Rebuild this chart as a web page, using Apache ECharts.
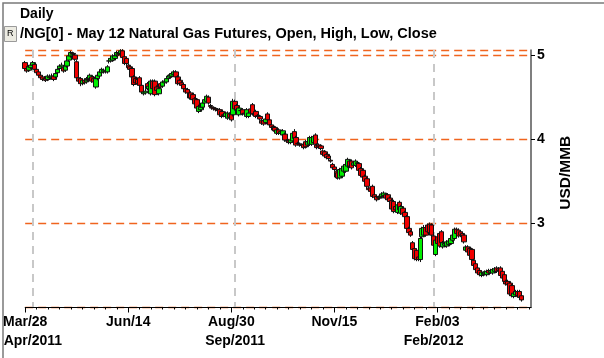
<!DOCTYPE html>
<html><head><meta charset="utf-8">
<script src="https://cdn.jsdelivr.net/npm/echarts@6/dist/echarts.min.js"></script>
<style>html,body{margin:0;padding:0;background:#fff}#c{width:604px;height:358px}</style>
</head><body><div id="c"></div>
<script>
// ---- data ----
const firstDay = '2011-03-28';
const totalBars = 266;
const holidays = ['2011-04-22','2011-05-30','2011-07-04','2011-09-05','2011-11-24','2011-12-26','2012-01-02','2012-01-16','2012-02-20','2012-04-06'];
const majorTickDates = ['2011-03-28','2011-06-14','2011-08-30','2011-11-15','2012-02-03'];
const majorTickLabels = ['Mar/28','Jun/14','Aug/30','Nov/15','Feb/03'];
const monthDates = ['2011-04-01','2011-09-01','2012-02-01'];
const monthLabels = ['Apr/2011','Sep/2011','Feb/2012'];
const titleText = 'Daily';
const subTitleText = '/NG[0] - May 12 Natural Gas Futures, Open, High, Low, Close';
const yName = 'USD/MMB';

const opens = [
4.91,4.84,4.82,4.85,4.88,4.89,4.83,4.80,4.76,4.74,
4.71,4.72,4.71,4.74,4.73,4.75,4.74,4.79,4.84,4.86,
4.85,4.82,4.87,4.94,4.99,5.02,5.00,4.92,4.73,4.72,
4.66,4.70,4.68,4.71,4.72,4.74,4.72,4.62,4.72,4.75,
4.79,4.80,4.81,4.80,4.93,4.93,4.94,4.96,5.00,5.02,
5.02,5.05,4.98,4.96,4.88,4.86,4.84,4.74,4.72,4.71,
4.73,4.64,4.54,4.55,4.66,4.60,4.54,4.69,4.69,4.62,
4.54,4.66,4.63,4.67,4.68,4.72,4.74,4.75,4.77,4.80,
4.74,4.70,4.67,4.65,4.60,4.59,4.54,4.55,4.53,4.48,
4.47,4.33,4.35,4.38,4.43,4.45,4.50,4.40,4.38,4.37,
4.36,4.35,4.35,4.33,4.29,4.27,4.25,4.30,4.31,4.29,
4.45,4.40,4.29,4.34,4.35,4.31,4.27,4.27,4.36,4.41,
4.30,4.33,4.28,4.27,4.22,4.22,4.20,4.30,4.23,4.17,
4.15,4.14,4.07,4.11,4.07,4.05,4.06,3.98,3.98,3.96,
3.98,4.09,4.02,3.95,3.94,3.93,3.94,3.97,3.93,3.94,
3.94,3.96,4.05,3.93,3.93,3.92,3.86,3.85,3.82,3.80,
3.75,3.70,3.67,3.62,3.60,3.54,3.56,3.62,3.62,3.68,
3.74,3.74,3.69,3.69,3.72,3.71,3.65,3.63,3.56,3.53,
3.42,3.42,3.44,3.34,3.32,3.31,3.30,3.32,3.33,3.34,
3.34,3.30,3.27,3.26,3.20,3.13,3.25,3.12,3.18,3.13,
3.08,2.94,2.90,2.77,2.70,2.68,2.60,2.57,2.84,2.86,
2.95,2.98,2.99,2.98,2.85,2.63,2.84,2.88,2.90,2.72,
2.74,2.73,2.75,2.76,2.80,2.82,2.93,2.92,2.90,2.88,
2.86,2.68,2.72,2.70,2.69,2.56,2.52,2.47,2.44,2.38,
2.39,2.40,2.39,2.44,2.42,2.41,2.43,2.47,2.46,2.47,
2.43,2.39,2.31,2.31,2.29,2.26,2.13,2.15,2.19,2.19,
2.14];
const closes = [
4.84,4.81,4.86,4.88,4.91,4.83,4.79,4.76,4.73,4.71,
4.72,4.70,4.75,4.73,4.75,4.71,4.78,4.83,4.87,4.88,
4.81,4.87,4.93,4.99,5.03,5.01,4.95,4.73,4.69,4.66,
4.70,4.67,4.72,4.70,4.76,4.69,4.68,4.72,4.76,4.80,
4.83,4.82,4.80,4.86,4.93,4.96,4.99,4.99,5.03,5.01,
5.05,4.97,4.90,4.90,4.85,4.83,4.74,4.65,4.67,4.66,
4.64,4.56,4.56,4.57,4.60,4.63,4.69,4.60,4.53,4.58,
4.60,4.62,4.68,4.69,4.72,4.75,4.76,4.78,4.80,4.74,
4.66,4.66,4.64,4.60,4.56,4.55,4.49,4.49,4.47,4.42,
4.37,4.39,4.38,4.43,4.47,4.51,4.43,4.39,4.37,4.36,
4.35,4.34,4.29,4.27,4.28,4.31,4.31,4.26,4.23,4.45,
4.36,4.35,4.37,4.34,4.30,4.30,4.35,4.31,4.32,4.30,
4.30,4.27,4.27,4.24,4.19,4.18,4.24,4.23,4.17,4.14,
4.11,4.10,4.11,4.07,4.09,4.10,3.99,3.98,3.96,3.99,
4.07,4.01,3.93,3.95,3.93,3.93,3.90,3.91,3.97,4.02,
4.02,4.03,3.94,3.90,3.91,3.89,3.82,3.80,3.78,3.77,
3.74,3.66,3.64,3.55,3.54,3.64,3.65,3.68,3.70,3.76,
3.68,3.66,3.72,3.74,3.71,3.63,3.57,3.55,3.50,3.44,
3.40,3.38,3.32,3.31,3.28,3.30,3.31,3.35,3.36,3.30,
3.28,3.26,3.17,3.14,3.16,3.22,3.16,3.20,3.11,3.08,
2.94,2.89,2.86,2.69,2.58,2.57,2.57,2.82,2.94,2.95,
2.86,2.90,2.89,2.86,2.74,2.80,2.76,2.73,2.77,2.77,
2.76,2.78,2.79,2.82,2.86,2.93,2.88,2.85,2.86,2.84,
2.78,2.72,2.66,2.62,2.57,2.50,2.45,2.41,2.39,2.42,
2.41,2.42,2.43,2.41,2.44,2.45,2.46,2.43,2.44,2.38,
2.35,2.31,2.28,2.27,2.16,2.14,2.17,2.19,2.14,2.12,
2.09];
const lows = [
4.81,4.79,4.80,4.83,4.86,4.81,4.77,4.74,4.71,4.69,
4.69,4.68,4.69,4.71,4.71,4.69,4.72,4.77,4.82,4.84,
4.79,4.80,4.85,4.92,4.97,4.99,4.93,4.71,4.66,4.63,
4.64,4.65,4.66,4.68,4.70,4.67,4.65,4.60,4.70,4.73,
4.77,4.78,4.78,4.78,4.90,4.91,4.92,4.94,4.98,4.99,
5.00,4.95,4.88,4.88,4.83,4.81,4.72,4.63,4.65,4.64,
4.62,4.54,4.52,4.53,4.58,4.58,4.52,4.58,4.51,4.56,
4.52,4.60,4.61,4.65,4.66,4.70,4.72,4.73,4.75,4.72,
4.64,4.64,4.62,4.58,4.54,4.53,4.47,4.47,4.45,4.40,
4.35,4.31,4.33,4.36,4.41,4.43,4.41,4.37,4.35,4.34,
4.33,4.32,4.27,4.25,4.26,4.25,4.23,4.24,4.21,4.27,
4.34,4.33,4.27,4.32,4.28,4.28,4.25,4.25,4.30,4.28,
4.28,4.25,4.25,4.22,4.17,4.16,4.18,4.21,4.15,4.12,
4.09,4.08,4.05,4.05,4.05,4.03,3.97,3.96,3.94,3.94,
3.96,3.99,3.91,3.93,3.91,3.91,3.88,3.89,3.91,3.92,
3.92,3.94,3.92,3.88,3.89,3.87,3.80,3.78,3.76,3.75,
3.72,3.64,3.62,3.53,3.52,3.52,3.54,3.60,3.60,3.66,
3.66,3.64,3.67,3.67,3.69,3.61,3.55,3.53,3.48,3.42,
3.38,3.36,3.30,3.29,3.26,3.28,3.28,3.30,3.31,3.28,
3.26,3.24,3.15,3.12,3.14,3.11,3.14,3.10,3.09,3.06,
2.92,2.87,2.84,2.67,2.56,2.55,2.55,2.54,2.82,2.84,
2.84,2.88,2.87,2.84,2.72,2.61,2.74,2.71,2.75,2.70,
2.72,2.71,2.73,2.74,2.78,2.80,2.86,2.83,2.84,2.82,
2.76,2.66,2.64,2.60,2.55,2.48,2.43,2.39,2.37,2.36,
2.37,2.38,2.37,2.39,2.40,2.39,2.41,2.41,2.42,2.36,
2.33,2.29,2.26,2.25,2.14,2.12,2.11,2.13,2.12,2.10,
2.07];
const highs = [
4.93,4.87,4.88,4.90,4.93,4.91,4.85,4.82,4.78,4.76,
4.75,4.74,4.77,4.77,4.78,4.77,4.80,4.85,4.89,4.91,
4.88,4.89,4.95,5.01,5.05,5.04,5.02,4.94,4.76,4.74,
4.72,4.72,4.74,4.74,4.78,4.76,4.75,4.74,4.78,4.82,
4.85,4.84,4.84,4.88,4.96,4.98,5.01,5.01,5.05,5.04,
5.07,5.07,5.00,4.98,4.90,4.88,4.86,4.76,4.74,4.73,
4.75,4.66,4.58,4.60,4.68,4.65,4.71,4.71,4.71,4.64,
4.62,4.68,4.70,4.71,4.74,4.77,4.78,4.80,4.82,4.82,
4.76,4.72,4.69,4.67,4.62,4.61,4.56,4.57,4.55,4.50,
4.49,4.41,4.40,4.45,4.49,4.53,4.52,4.42,4.40,4.39,
4.38,4.37,4.37,4.35,4.31,4.33,4.33,4.32,4.33,4.48,
4.47,4.42,4.39,4.36,4.37,4.33,4.37,4.33,4.38,4.43,
4.32,4.35,4.30,4.29,4.24,4.24,4.26,4.32,4.25,4.19,
4.17,4.16,4.13,4.13,4.11,4.12,4.08,4.00,4.00,4.01,
4.09,4.12,4.04,3.97,3.96,3.95,3.96,3.99,3.99,4.04,
4.04,4.05,4.07,3.95,3.95,3.94,3.88,3.87,3.84,3.82,
3.77,3.72,3.69,3.64,3.62,3.66,3.67,3.70,3.72,3.78,
3.76,3.76,3.74,3.76,3.74,3.73,3.67,3.65,3.58,3.55,
3.44,3.44,3.46,3.36,3.34,3.33,3.33,3.37,3.38,3.36,
3.36,3.32,3.29,3.28,3.22,3.24,3.27,3.22,3.20,3.15,
3.10,2.96,2.92,2.79,2.72,2.70,2.62,2.84,2.96,2.98,
2.98,3.00,3.01,3.00,2.87,2.82,2.86,2.90,2.92,2.79,
2.78,2.80,2.81,2.84,2.88,2.95,2.95,2.94,2.92,2.90,
2.88,2.74,2.74,2.72,2.71,2.58,2.54,2.49,2.46,2.44,
2.43,2.44,2.45,2.46,2.46,2.47,2.48,2.49,2.48,2.49,
2.45,2.41,2.33,2.33,2.31,2.28,2.19,2.21,2.21,2.21,
2.16];

// ---- build categories (trading days) ----
function buildTradingDays() {
  const out = [];
  const p = firstDay.split('-').map(Number);
  const d = new Date(Date.UTC(p[0], p[1] - 1, p[2]));
  while (out.length < totalBars) {
    const wd = d.getUTCDay();
    const s = d.toISOString().slice(0, 10);
    if (wd !== 0 && wd !== 6 && holidays.indexOf(s) < 0) out.push(s);
    d.setUTCDate(d.getUTCDate() + 1);
  }
  return out;
}
const cats = buildTradingDays();
const ohlc = opens.map((o, i) => [o, closes[i], lows[i], highs[i]]);

const FONT = '"Liberation Sans", Arial, sans-serif';
const chart = echarts.init(document.getElementById('c'), null, {renderer: 'canvas'});
const isMajor = (i, v) => majorTickDates.indexOf(v) >= 0;
const isMonth = (i, v) => monthDates.indexOf(v) >= 0;

chart.setOption({
  animation: false,
  backgroundColor: '#ffffff',
  title: [
    {text: titleText, left: 20, top: 7, padding: 0,
     textStyle: {fontFamily: FONT, fontSize: 14, fontWeight: 'bold', color: '#000'}},
    {text: subTitleText, left: 20, top: 26, padding: 0,
     textStyle: {fontFamily: FONT, fontSize: 14.5, fontWeight: 'bold', color: '#000'}}
  ],
  graphic: [
    {type: 'rect', left: 0.5, top: 0.5, shape: {width: 602, height: 356},
     style: {fill: 'none', stroke: '#7a7a7a', lineWidth: 1.5}, z: 100},
    {type: 'rect', left: 4, top: 26, shape: {width: 12, height: 15},
     style: {fill: '#ecebe2', stroke: '#9a9a9a', lineWidth: 1}, z: 100},
    {type: 'text', left: 7, top: 29, style: {text: 'R', fontFamily: FONT, fontSize: 9, fill: '#000'}, z: 101}
  ],
  grid: {left: 23, right: 73, top: 50, bottom: 50.5, containLabel: false},
  xAxis: [
    {type: 'category', data: cats, boundaryGap: false, position: 'bottom', z: 5,
     axisLine: {show: true, lineStyle: {color: '#000', width: 1}},
     axisTick: {show: true, interval: (i) => i % 6 === 0, length: 2, lineStyle: {color: '#000'}},
     axisLabel: {interval: isMajor, formatter: (v) => majorTickLabels[majorTickDates.indexOf(v)],
       margin: 8, color: '#000', fontFamily: FONT, fontSize: 14, fontWeight: 'bold'},
     splitLine: {show: false}},
    {type: 'category', data: cats, boundaryGap: false, position: 'bottom', z: 5,
     axisLine: {show: false},
     axisTick: {show: true, interval: isMajor, length: 5, lineStyle: {color: '#000'}},
     axisLabel: {show: false}, splitLine: {show: false}},
    {type: 'category', data: cats, boundaryGap: false, position: 'bottom',
     axisLine: {show: false}, axisTick: {show: false},
     axisLabel: {interval: isMonth, formatter: (v) => monthLabels[monthDates.indexOf(v)],
       margin: 27, color: '#000', fontFamily: FONT, fontSize: 14, fontWeight: 'bold'},
     splitLine: {show: true, interval: isMonth, lineStyle: {color: '#c8c8c8', width: 2, type: [8, 6]}}}
  ],
  yAxis: {
    type: 'value', position: 'right', min: 2, max: 5.06, interval: 1, scale: true,
    axisLine: {show: true, lineStyle: {color: '#555', width: 1.5}},
    axisTick: {show: true, length: 4, lineStyle: {color: '#000'}},
    axisLabel: {showMinLabel: false, showMaxLabel: false, margin: 6, color: '#000',
      fontFamily: FONT, fontSize: 14, fontWeight: 'bold'},
    splitLine: {show: true, lineStyle: {color: '#f0641e', width: 1.3, type: [8, 5]}},
    name: yName, nameLocation: 'middle', nameRotate: 90, nameGap: 27,
    nameTextStyle: {fontFamily: FONT, fontSize: 15.5, fontWeight: 'bold', color: '#000', padding: [0, 0, 0, 12]}
  },
  series: [{
    type: 'candlestick', xAxisIndex: 0, yAxisIndex: 0, data: ohlc, barWidth: 5,
    itemStyle: {color: '#00ee00', color0: '#f00000', borderColor: '#111', borderColor0: '#111',
      borderWidth: 1}
  }]
});
</script></body></html>
